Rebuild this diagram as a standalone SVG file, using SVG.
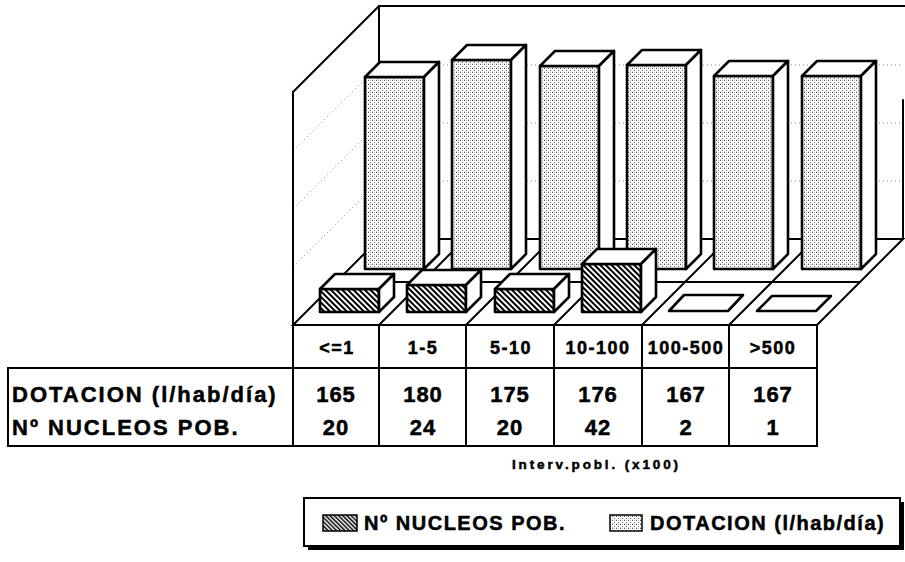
<svg xmlns="http://www.w3.org/2000/svg" width="905" height="562" viewBox="0 0 905 562">
<defs>
<pattern id="stip" width="4" height="4" patternUnits="userSpaceOnUse">
<rect width="4" height="4" fill="#fff"/>
<rect x="0" y="0" width="1" height="1" fill="#555"/>
<rect x="2" y="2" width="1" height="1" fill="#666"/>
<rect x="2" y="0" width="1" height="1" fill="#bbb"/>
<rect x="0" y="3" width="1" height="1" fill="#ccc"/>
</pattern>
<pattern id="hatch" width="4" height="4" patternUnits="userSpaceOnUse" patternTransform="rotate(-45)">
<rect width="4" height="4" fill="#fff"/>
<rect x="0" y="0" width="2" height="4" fill="#000"/>
</pattern>
<pattern id="hatchL" width="3" height="3" patternUnits="userSpaceOnUse" patternTransform="rotate(-45)">
<rect width="3" height="3" fill="#fff"/>
<rect x="0" y="0" width="1.5" height="3" fill="#000"/>
</pattern>
</defs>
<style>
.ln{stroke:#000;stroke-width:2;fill:none;stroke-linecap:round}
.grid{stroke:#888;stroke-width:1;stroke-dasharray:1 3;fill:none}
.bar{stroke:#000;stroke-width:2.6;stroke-linejoin:round}
.w{fill:#fff}
.d{fill:url(#stip)}
.h{fill:url(#hatch)}
.t{font-family:"Liberation Sans",Arial,sans-serif;font-weight:bold;fill:#000;stroke:#000;stroke-width:0.5}
.hd{font-size:18px;letter-spacing:1.5px;text-anchor:middle}
.val{font-size:22px;letter-spacing:1px;text-anchor:middle}
.lab{font-size:22px;letter-spacing:2px}
.leg{font-size:20px;letter-spacing:1.5px}
</style>
<rect width="905" height="562" fill="#fff"/>

<g id="walls">
<polygon points="293,92 379,6 379,239 293,325" fill="#fff"/>
<rect x="379" y="6" width="524" height="233" fill="#fff"/>
<line class="grid" x1="379" y1="65" x2="903" y2="65"/>
<line class="grid" x1="379" y1="123" x2="903" y2="123"/>
<line class="grid" x1="379" y1="181" x2="903" y2="181"/>
<line class="grid" x1="293" y1="151" x2="379" y2="65"/>
<line class="grid" x1="293" y1="209" x2="379" y2="123"/>
<line class="grid" x1="293" y1="267" x2="379" y2="181"/>
<line class="ln" x1="293" y1="92" x2="379" y2="6"/>
<line class="ln" x1="379" y1="6" x2="905" y2="6"/>
<line class="ln" x1="379" y1="6" x2="379" y2="239"/>
<line class="ln" x1="903" y1="100" x2="903" y2="239"/>
<line class="ln" x1="293" y1="92" x2="293" y2="446" stroke-width="2.4"/>
</g>

<g id="floor">
<polygon class="ln" points="293,325 817,325 903,239 379,239" fill="#fff"/>
<line class="ln" x1="336" y1="282" x2="860" y2="282"/>
<line class="ln" x1="379" y1="325" x2="465" y2="239"/>
<line class="ln" x1="466" y1="325" x2="552" y2="239"/>
<line class="ln" x1="554" y1="325" x2="640" y2="239"/>
<line class="ln" x1="642" y1="325" x2="728" y2="239"/>
<line class="ln" x1="729" y1="325" x2="815" y2="239"/>
</g>

<g id="dotacion-bars">
<g id="d1"><rect class="bar d" x="365" y="77" width="59" height="192"/><polygon class="bar w" points="365,77 380,62 439,62 424,77"/><polygon class="bar w" points="424,77 439,62 439,254 424,269"/></g>
<g id="d2"><rect class="bar d" x="452" y="60" width="59" height="209"/><polygon class="bar w" points="452,60 467,45 526,45 511,60"/><polygon class="bar w" points="511,60 526,45 526,254 511,269"/></g>
<g id="d3"><rect class="bar d" x="540" y="66" width="59" height="203"/><polygon class="bar w" points="540,66 555,51 614,51 599,66"/><polygon class="bar w" points="599,66 614,51 614,254 599,269"/></g>
<g id="d4"><rect class="bar d" x="627" y="65" width="59" height="204"/><polygon class="bar w" points="627,65 642,50 701,50 686,65"/><polygon class="bar w" points="686,65 701,50 701,254 686,269"/></g>
<g id="d5"><rect class="bar d" x="714" y="76" width="59" height="193"/><polygon class="bar w" points="714,76 729,61 788,61 773,76"/><polygon class="bar w" points="773,76 788,61 788,254 773,269"/></g>
<g id="d6"><rect class="bar d" x="802" y="76" width="59" height="193"/><polygon class="bar w" points="802,76 817,61 876,61 861,76"/><polygon class="bar w" points="861,76 876,61 876,254 861,269"/></g>
</g>

<g id="nucleos-bars">
<g id="n1"><rect class="bar h" x="320" y="289" width="59" height="23"/><polygon class="bar w" points="320,289 335,274 394,274 379,289"/><polygon class="bar w" points="379,289 394,274 394,297 379,312"/></g>
<g id="n2"><rect class="bar h" x="407" y="285" width="59" height="27"/><polygon class="bar w" points="407,285 422,270 481,270 466,285"/><polygon class="bar w" points="466,285 481,270 481,297 466,312"/></g>
<g id="n3"><rect class="bar h" x="495" y="289" width="59" height="23"/><polygon class="bar w" points="495,289 510,274 569,274 554,289"/><polygon class="bar w" points="554,289 569,274 569,297 554,312"/></g>
<g id="n4"><rect class="bar h" x="582" y="264" width="59" height="48"/><polygon class="bar w" points="582,264 597,249 656,249 641,264"/><polygon class="bar w" points="641,264 656,249 656,297 641,312"/></g>
<g id="n5"><polygon class="bar w" stroke-width="3.4" points="669,311 684,295 743,295 728,311"/></g>
<g id="n6"><polygon class="bar w" stroke-width="3.4" points="757,311 772,296 831,296 816,311"/></g>
</g>

<g id="table">
<line class="ln" x1="8" y1="368" x2="817" y2="368"/>
<line class="ln" x1="8" y1="446" x2="817" y2="446"/>
<line class="ln" x1="8" y1="368" x2="8" y2="446"/>
<line class="ln" x1="379" y1="325" x2="379" y2="446"/>
<line class="ln" x1="466" y1="325" x2="466" y2="446"/>
<line class="ln" x1="554" y1="325" x2="554" y2="446"/>
<line class="ln" x1="642" y1="325" x2="642" y2="446"/>
<line class="ln" x1="729" y1="325" x2="729" y2="446"/>
<line class="ln" x1="817" y1="325" x2="817" y2="446"/>
<g class="t hd">
<text x="337" y="354">&lt;=1</text>
<text x="423" y="354">1-5</text>
<text x="511" y="354">5-10</text>
<text x="598" y="354">10-100</text>
<text x="686" y="354">100-500</text>
<text x="773" y="354">&gt;500</text>
</g>
<g class="t lab">
<text x="12" y="402">DOTACION (l/hab/día)</text>
<text x="12" y="435">Nº NUCLEOS POB.</text>
</g>
<g class="t val">
<text x="336" y="402">165</text><text x="423" y="402">180</text><text x="510" y="402">175</text><text x="598" y="402">176</text><text x="686" y="402">167</text><text x="773" y="402">167</text>
<text x="336" y="435">20</text><text x="423" y="435">24</text><text x="510" y="435">20</text><text x="598" y="435">42</text><text x="686" y="435">2</text><text x="773" y="435">1</text>
</g>
<text class="t" x="595" y="469" font-size="13.5" text-anchor="middle" textLength="166" lengthAdjust="spacing">Interv.pobl. (x100)</text>
</g>

<g id="legend">
<rect x="308" y="502" width="596" height="48" fill="#000"/>
<rect x="304" y="498" width="596" height="48" fill="#fff" stroke="#000" stroke-width="2"/>
<rect x="323" y="515" width="34" height="16" fill="url(#hatchL)" stroke="#000" stroke-width="1.5"/>
<text class="t leg" x="364" y="530">Nº NUCLEOS POB.</text>
<rect x="610" y="515" width="32" height="16" fill="url(#stip)" stroke="#000" stroke-width="1.5"/>
<text class="t leg" x="650" y="530">DOTACION (l/hab/día)</text>
</g>
</svg>
